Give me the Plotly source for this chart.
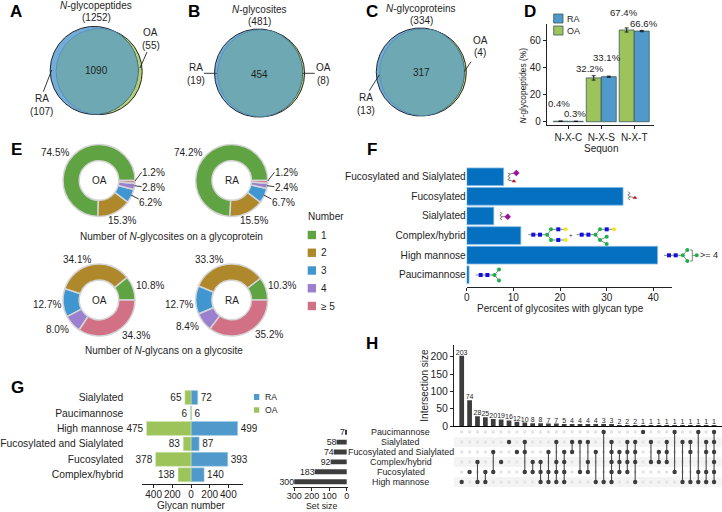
import numpy as np
import plotly.graph_objects as go

W, H = 722, 512
FONT = "Liberation Sans, Arial, sans-serif"
INK = "#1e1e1e"
RA_C, OA_C = "#4f9aca", "#9cc45a"

# ---- data ----
venn_titles = ["N-glycopeptides", "N-glycosites", "N-glycoproteins"]
venn_totals = [1252, 481, 334]
venn_common = [1090, 454, 317]
venn_ra = [107, 19, 13]
venn_oa = [55, 8, 4]

sequons = ["N-X-C", "N-X-S", "N-X-T"]
seq_oa = [0.4, 32.2, 67.4]
seq_ra = [0.3, 33.1, 66.6]
seq_oa_err = [0.1, 1.6, 1.5]
seq_ra_err = [0.1, 0.4, 0.5]

number_levels = ["1", "2", "3", "4", "≥ 5"]
number_colors = ["#5fa343", "#b0882c", "#3f96d0", "#9b80d0", "#d27086"]
sites_oa = [74.5, 15.3, 6.2, 2.8, 1.2]
sites_ra = [74.2, 15.5, 6.7, 2.4, 1.2]
glycans_oa = [10.8, 34.1, 12.7, 8.0, 34.3]
glycans_ra = [10.3, 33.3, 12.7, 8.4, 35.2]

f_types = ["Paucimannose", "High mannose", "Complex/hybrid", "Sialylated", "Fucosylated", "Fucosylated and Sialylated"]
f_pct = [0.5, 40.9, 11.6, 5.8, 33.5, 7.9]

g_types = ["Complex/hybrid", "Fucosylated", "Fucosylated and Sialylated", "High mannose", "Paucimannose", "Sialylated"]
g_ra = [140, 393, 87, 499, 6, 72]
g_oa = [138, 378, 83, 475, 6, 65]

set_names = ["High mannose", "Fucosylated", "Complex/hybrid", "Fucosylated and Sialylated", "Sialylated", "Paucimannose"]
set_sizes = [300, 183, 92, 74, 58, 7]

inter_sizes = [203, 74, 28, 25, 20, 19, 16, 12, 10, 8, 8, 7, 7, 5, 4, 4, 4, 4, 3, 3, 2, 2, 2, 1, 1, 1, 1, 1, 1, 1, 1, 1, 1]
inter_sets = ["H", "F", "CH", "FH", "QF", "C", "S", "Q", "SQF", "CF", "CFH", "QFH", "SCFH", "QCFH", "SQ", "SF", "SCF",
              "QH", "PH", "SQCFH", "QCF", "SQCF", "SQCH", "P", "SC", "QC", "SQC", "PF", "SH", "SQH", "PFH", "SQFH", "PSQCFH"]
matrix_rows = ["Paucimannose", "Sialylated", "Fucosylated and Sialylated", "Complex/hybrid", "Fucosylated", "High mannose"]
matrix_keys = "PSQCFH"

fig = go.Figure()
annos, shapes = [], []


def px(x):
    return x / W


def py(y):
    return 1 - y / H


def txt(x, y, s, size=10, anchor="center", angle=0, color=INK, bold=False):
    annos.append(dict(x=px(x), y=py(y), xref="paper", yref="paper", text=f"<b>{s}</b>" if bold else s,
                      showarrow=False, xanchor=anchor, yanchor="middle", textangle=angle, borderpad=0, borderwidth=0,
                      font=dict(size=size, color=color, family=FONT)))


def seg(x0, y0, x1, y1, color="#222", width=0.9):
    shapes.append(dict(type="line", xref="paper", yref="paper", x0=px(x0), y0=py(y0), x1=px(x1), y1=py(y1),
                       line=dict(color=color, width=width)))


def rect(x0, y0, x1, y1, color, line=None):
    shapes.append(dict(type="rect", xref="paper", yref="paper", x0=px(x0), y0=py(y0), x1=px(x1), y1=py(y1),
                       fillcolor=color, line=dict(color=line or color, width=0.8 if line else 0)))


def dom(l, r, t, b):
    return dict(x=[l / W, r / W], y=[1 - b / H, 1 - t / H])


# ---- overlay axis in page pixels ----
def poly(xs, ys, fill, line, lw=0.9):
    fig.add_trace(go.Scatter(x=xs, y=ys, mode="lines", fill="toself", fillcolor=fill,
                             line=dict(color=line, width=lw), hoverinfo="skip", showlegend=False,
                             xaxis="x", yaxis="y"))


def venn(cx, cy, r_ra, n_ra, n_oa, dx, dy):
    r_oa = r_ra * np.sqrt(n_oa / n_ra)
    t = np.linspace(0, 2 * np.pi, 240)
    ox, oy = cx + dx, cy + dy
    poly(ox + r_oa * np.cos(t), oy + r_oa * np.sin(t), "#b2cf73", "#111")
    poly(cx + r_ra * np.cos(t), cy + r_ra * np.sin(t), "#73acd8", "#111")
    d = np.hypot(dx, dy)
    a = (r_ra ** 2 - r_oa ** 2 + d ** 2) / (2 * d)
    hh = np.sqrt(r_ra ** 2 - a ** 2)
    th = np.arctan2(dy, dx)
    a1, a2 = np.arctan2(hh, a), np.arctan2(hh, d - a)
    t1 = np.linspace(th - a1, th + a1, 200)
    t2 = np.linspace(th + np.pi - a2, th + np.pi + a2, 200)
    xs = np.r_[cx + r_ra * np.cos(t1), ox + r_oa * np.cos(t2)]
    ys = np.r_[cy + r_ra * np.sin(t1), oy + r_oa * np.sin(t2)]
    poly(xs, ys, "#6ea9b3", "#4f86ad", 0.7)


venn(94.2, 70.4, 44, venn_common[0] + venn_ra[0], venn_common[0] + venn_oa[0], 5.0, 1.2)
venn(258.5, 73, 44, venn_common[1] + venn_ra[1], venn_common[1] + venn_oa[1], 2.6, 0.3)
venn(420.3, 72, 44, venn_common[2] + venn_ra[2], venn_common[2] + venn_oa[2], 2.6, 0.3)

venn_txt = [
    dict(t=(96, 5.8), n=(96, 17.7), c=(96, 70.3), oa=(150.7, 32.7, 45), ra=(41.5, 98.3, 111)),
    dict(t=(259.3, 9), n=(259.3, 21.3), c=(259, 74), oa=(323.3, 67.7, 80.3), ra=(196, 67.7, 80.3)),
    dict(t=(421.3, 8), n=(421.3, 20.7), c=(421.3, 72.3), oa=(480.3, 40, 52.3), ra=(365.5, 97.3, 110)),
]
for i, p in enumerate(venn_txt):
    name = venn_titles[i]
    txt(*p["t"], f"<i>{name[0]}</i>{name[1:]}")
    txt(*p["n"], f"({venn_totals[i]})")
    txt(*p["c"], str(venn_common[i]))
    txt(p["oa"][0], p["oa"][1], "OA")
    txt(p["oa"][0], p["oa"][2], f"({venn_oa[i]})")
    txt(p["ra"][0], p["ra"][1], "RA")
    txt(p["ra"][0], p["ra"][2], f"({venn_ra[i]})")
for s in [(51.7, 70, 43.3, 91.7), (140, 68, 147, 52), (204, 73.3, 216.7, 73.3), (302.7, 73.3, 314.7, 73.3),
          (379.3, 75, 369.3, 90.7), (464.3, 71.7, 471, 61.7)]:
    seg(*s)

for s, x, y in [("A", 16, 11.5), ("B", 194, 11.5), ("C", 372, 11.7), ("D", 530, 11.2), ("E", 16, 149), ("F", 371.7, 149),
                ("G", 17, 387.7), ("H", 372.3, 343.3)]:
    txt(x, y, s, size=17, bold=True, color="#000")

# ---- glycan glyphs (panel F decoration) ----
BLUE, GREEN, YEL, RED, MAG = "#1010e0", "#18b048", "#f2e620", "#c01020", "#a0109a"
GL = "#666666"


def links(pts):
    xs, ys = [], []
    for a, b, c, d in pts:
        xs += [a, c, None]
        ys += [b, d, None]
    fig.add_trace(go.Scatter(x=xs, y=ys, mode="lines", line=dict(color=GL, width=0.8), hoverinfo="skip",
                             showlegend=False, xaxis="x", yaxis="y"))


def nodes(pts, color, symbol, size=4):
    fig.add_trace(go.Scatter(x=[p[0] for p in pts], y=[p[1] for p in pts], mode="markers",
                             marker=dict(color=color, symbol=symbol, size=size, line=dict(width=0)),
                             hoverinfo="skip", showlegend=False, xaxis="x", yaxis="y"))


def core(x, y):
    links([(x - 5, y, x + 13.8, y), (x + 13.8, y, x + 18.3, y - 5.4), (x + 13.8, y, x + 18.3, y + 5.4)])
    nodes([(x, y), (x + 6.7, y)], BLUE, "square")
    nodes([(x + 13.8, y)], GREEN, "circle")


def squiggle(x, y0, y1):
    ys = np.linspace(y0, y1, 6)
    links([(x + (1.2 if i % 2 else -1.2), ys[i], x + (-1.2 if i % 2 else 1.2), ys[i + 1]) for i in range(5)])


core(480.7, 275)
nodes([(499, 269.6), (499, 280.4)], GREEN, "circle")
core(533.3, 234.7)
links([(551, 229.3, 565.7, 229.3), (551, 240, 565.7, 240)])
nodes([(551, 229.3), (551, 240)], GREEN, "circle")
nodes([(558.3, 229.3), (558.3, 240)], BLUE, "square")
nodes([(565.7, 229.3), (565.7, 240)], YEL, "circle")
txt(570.7, 234.5, "+", size=6)
core(581.7, 234.7)
links([(600, 229.3, 614, 229.3), (600, 240.1, 606.7, 236.7), (600, 240.1, 606.7, 244)])
nodes([(600, 229.3), (600, 240.1), (606.7, 236.7), (606.7, 244)], GREEN, "circle")
nodes([(606.7, 229.3)], BLUE, "square")
nodes([(614, 229.3)], YEL, "circle")
core(669, 255.3)
links([(690, 250, 692.3, 250), (692.3, 250, 692.3, 261), (692.3, 261, 690, 261), (692.3, 255.3, 696.7, 255.3)])
nodes([(687.3, 250), (687.3, 261), (696.7, 255.3)], GREEN, "circle")
txt(699.5, 255.3, "&gt;= 4", size=9, anchor="left")
squiggle(629, 191.7, 200)
links([(629, 196.5, 635, 197.7)])
nodes([(635, 197.7)], RED, "triangle-up", 4)
squiggle(501, 212, 220)
links([(501, 216.7, 507.7, 216.7)])
nodes([(507.7, 216.7)], MAG, "diamond", 5)
squiggle(509, 173, 181)
links([(509, 174, 516, 173), (509, 180, 514, 181.3)])
nodes([(516.3, 173)], MAG, "diamond", 5)
nodes([(514, 181.3)], RED, "triangle-up", 4)

# ---- D: sequon bars ----
xi = list(range(len(sequons)))
fig.add_trace(go.Bar(x=xi, y=seq_oa, width=0.45, offset=-0.455, marker=dict(color=OA_C, line=dict(color="#3d5a5a", width=0.8)),
                     error_y=dict(type="data", array=seq_oa_err, color="#111", thickness=0.9, width=2),
                     xaxis="x2", yaxis="y2", showlegend=False))
fig.add_trace(go.Bar(x=xi, y=seq_ra, width=0.45, offset=0.005, marker=dict(color=RA_C, line=dict(color="#3d5a5a", width=0.8)),
                     error_y=dict(type="data", array=seq_ra_err, color="#111", thickness=0.9, width=2),
                     xaxis="x2", yaxis="y2", showlegend=False))
for v, (x, y) in zip(seq_oa + seq_ra, [(559, 103), (590, 68), (624, 12), (575, 113), (607, 57), (644, 23)]):
    txt(x, y, f"{v}%", size=9.6)
rect(553.7, 14, 563, 23, RA_C, "#3d5a5a")
rect(553.7, 26, 563, 35, OA_C, "#3d5a5a")
txt(567, 18.5, "RA", size=9, anchor="left")
txt(567, 30.5, "OA", size=9, anchor="left")
txt(522.7, 85.7, "<i>N</i>-glycopeptides (%)", size=8.4, angle=-90)
txt(601, 148.3, "Sequon", size=10)

# ---- E: donuts ----
pies = [(99, 180.5, sites_oa, "OA"), (231.7, 180.5, sites_ra, "RA"), (99, 300, glycans_oa, "OA"), (231.7, 300, glycans_ra, "RA")]
R = 36
for cx, cy, vals, lab in pies:
    fig.add_trace(go.Pie(values=vals, labels=number_levels, sort=False, direction="counterclockwise",
                         rotation=90 - vals[0] * 360 / sum(vals),
                         hole=0.55, textinfo="none", showlegend=False, hoverinfo="skip",
                         marker=dict(colors=number_colors, line=dict(color="#d4d4d4", width=1.5)),
                         domain=dom(cx - R, cx + R, cy - R, cy + R)))
    txt(cx, cy, lab, size=10)
pos_top_oa = [(55, 152.7), (121.7, 220), (150.3, 202), (153.7, 187.3), (153.3, 172)]
pos_top_ra = [(187.7, 152.7), (254.3, 220), (283.3, 202), (286.7, 187.3), (286, 172)]
pos_bot_oa = [(150, 285.7), (76.7, 259), (46.7, 304.3), (57, 329), (136, 335.3)]
pos_bot_ra = [(282, 285.7), (209, 259), (179, 304.3), (187.7, 326.7), (269, 334.7)]
for vals, pos in [(sites_oa, pos_top_oa), (sites_ra, pos_top_ra), (glycans_oa, pos_bot_oa), (glycans_ra, pos_bot_ra)]:
    for v, (x, y) in zip(vals, pos):
        txt(x, y, f"{v:.1f}%", size=10)
for off in (0, 132.7):
    seg(135 + off, 181, 141.7 + off, 172.3)
    seg(134.3 + off, 185.7, 141.7 + off, 186.7)
    seg(131 + off, 195, 138.7 + off, 199)
txt(171, 236.3, "Number of <i>N</i>-glycosites on a glycoprotein")
txt(164, 350.7, "Number of <i>N</i>-glycans on a glycosite")
txt(307.7, 216, "Number", anchor="left")
for i, (lv, c) in enumerate(zip(number_levels, number_colors)):
    yy = 235 + i * 17.75
    rect(307.7, yy - 4.2, 316, yy + 4.2, c)
    txt(321, yy, lv, anchor="left")

# ---- F: glycan type percentages ----
fig.add_trace(go.Bar(y=f_types, x=f_pct, orientation="h", width=0.9, offset=-0.45,
                     marker=dict(color="#0570c0", line=dict(color="#7db8e4", width=0.8)),
                     xaxis="x3", yaxis="y3", showlegend=False))
txt(560, 308.5, "Percent of glycosites with glycan type")

# ---- G: butterfly ----
bar_text = dict(textposition="outside", constraintext="none", textangle=0, cliponaxis=False)
fig.add_trace(go.Bar(y=g_types, x=g_ra, orientation="h", width=0.9, offset=-0.45, text=g_ra,
                     textfont=dict(size=10, color=INK), marker=dict(color=RA_C, line=dict(color="#a9cfe6", width=0.6)),
                     xaxis="x4", yaxis="y4", showlegend=False, **bar_text))
fig.add_trace(go.Bar(y=g_types, x=[-v for v in g_oa], orientation="h", width=0.9, offset=-0.45, text=g_oa,
                     textfont=dict(size=10, color=INK), marker=dict(color=OA_C, line=dict(color="#cfe2ab", width=0.6)),
                     xaxis="x4", yaxis="y4", showlegend=False, **bar_text))
rect(254, 394, 259.3, 400, RA_C)
rect(254, 407.3, 259.3, 412.7, OA_C)
txt(265, 397, "RA", size=8.6, anchor="left")
txt(265, 409.7, "OA", size=8.6, anchor="left")
txt(191, 505, "Glycan number")

# ---- set sizes ----
fig.add_trace(go.Bar(y=set_names, x=set_sizes, orientation="h", width=0.5, offset=-0.25, text=set_sizes,
                     textfont=dict(size=8.8, color=INK), marker=dict(color="#3d3d3d", line=dict(width=0)),
                     xaxis="x5", yaxis="y5", showlegend=False, **bar_text))
txt(321, 505.5, "Set size", size=8.8)

# ---- H: upset ----
cols = list(range(len(inter_sizes)))
fig.add_trace(go.Bar(x=cols, y=inter_sizes, width=0.6, offset=-0.3, text=inter_sizes,
                     textfont=dict(size=7, color=INK), marker=dict(color="#3d3d3d", line=dict(width=0)),
                     xaxis="x6", yaxis="y6", showlegend=False, **bar_text))
txt(425, 385.7, "Intersection size", angle=-90)
xa, ya = [], []
for k in cols:
    for j in range(6):
        xa.append(k)
        ya.append(j)
fig.add_trace(go.Scatter(x=xa, y=ya, mode="markers", marker=dict(color="#e4e4e4", size=3.6), hoverinfo="skip",
                         xaxis="x7", yaxis="y7", showlegend=False))
lx, ly, dx_, dy_ = [], [], [], []
for k, key in enumerate(inter_sets):
    idx = [matrix_keys.index(c) for c in key]
    if len(idx) > 1:
        lx += [k, k, None]
        ly += [min(idx), max(idx), None]
    for j in idx:
        dx_.append(k)
        dy_.append(j)
fig.add_trace(go.Scatter(x=lx, y=ly, mode="lines", line=dict(color="#4a4a4a", width=1.1), hoverinfo="skip",
                         xaxis="x7", yaxis="y7", showlegend=False))
fig.add_trace(go.Scatter(x=dx_, y=dy_, mode="markers", marker=dict(color="#3d3d3d", size=4.4), hoverinfo="skip",
                         xaxis="x7", yaxis="y7", showlegend=False))
for j, name in enumerate(matrix_rows):
    txt(400.5, 432 + j * 10, name, size=8.9)
    if j % 2 == 1:
        shapes.append(dict(type="rect", xref="x7 domain", yref="y7", x0=0, x1=1, y0=j - 0.5, y1=j + 0.5,
                           fillcolor="#f4f4f4", line=dict(width=0), layer="below"))


def axis(domain, rng, **kw):
    base = dict(domain=domain, range=rng, showgrid=False, zeroline=False, showline=True, linecolor="#222", linewidth=1,
                ticks="outside", ticklen=3, tickwidth=0.8, tickcolor="#222", tickangle=0,
                tickfont=dict(size=10, color=INK, family=FONT), automargin=False, fixedrange=True)
    base.update(kw)
    return base


def xd(l, r):
    return [l / W, r / W]


def yd(t, b):
    return [1 - b / H, 1 - t / H]


fig.update_layout(
    width=W, height=H, margin=dict(l=0, r=0, t=0, b=0), autosize=False,
    paper_bgcolor="white", plot_bgcolor="rgba(0,0,0,0)", barmode="overlay", showlegend=False,
    font=dict(family=FONT, color=INK), annotations=annos, shapes=shapes, uniformtext=dict(mode=False),
    xaxis=dict(domain=[0, 1], range=[0, W], visible=False, fixedrange=True),
    yaxis=dict(domain=[0, 1], range=[H, 0], visible=False, fixedrange=True),
    xaxis2=axis(xd(547, 654), [-0.645, 2.6], anchor="y2", tickvals=xi, ticktext=sequons, linewidth=1.3),
    yaxis2=axis(yd(24, 125), [-2.4, 71.8], anchor="x2", tickvals=[0, 20, 40, 60], linewidth=1.3),
    xaxis3=axis(xd(466.7, 671.7), [0, 43.93], anchor="y3", tickvals=[0, 10, 20, 30, 40], ticklabelstandoff=-2),
    yaxis3=axis(yd(165, 286.7), [-0.61, 5.6], anchor="x3", type="category", categoryorder="array", categoryarray=f_types,
                showline=False, ticks="", tickfont=dict(size=10.1, color=INK, family=FONT)),
    xaxis4=axis(xd(142.3, 242.7), [-521, 553], anchor="y4", tickvals=[-400, -200, 0, 200, 400],
                ticktext=["400", "200", "0", "200", "400"], ticklabelstandoff=-2),
    yaxis4=axis(yd(388, 484), [-0.6, 5.62], anchor="x4", type="category", categoryorder="array", categoryarray=g_types,
                showline=False, ticks="", ticklabelstandoff=18, tickfont=dict(size=10.3, color=INK, family=FONT)),
    xaxis5=axis(xd(293, 348), [307, -7.4], anchor="y5", tickvals=[300, 200, 100, 0], ticklabelstandoff=-3,
                tickfont=dict(size=9, color=INK, family=FONT)),
    yaxis5=axis(yd(427, 487.3), [-0.57, 5.53], anchor="x5", type="category", categoryorder="array", categoryarray=set_names,
                showline=False, ticks="", showticklabels=False),
    xaxis6=axis(xd(454, 721.7), [-0.977, 32.97], anchor="y6", showticklabels=False, ticks="", linecolor="#000", linewidth=1.2),
    yaxis6=axis(yd(345, 426), [0, 233.7], anchor="x6", tickvals=[0, 50, 100, 150, 200], linecolor="#222",
                tickfont=dict(size=10.4, color=INK, family=FONT)),
    xaxis7=dict(domain=xd(454, 721.7), range=[-0.977, 32.97], anchor="y7", visible=False, fixedrange=True),
    yaxis7=dict(domain=yd(427, 487), range=[5.5, -0.5], anchor="x7", visible=False, fixedrange=True),
)

fig.write_html("out.html", config=dict(displayModeBar=False), post_script="document.body.style.margin='0';")
